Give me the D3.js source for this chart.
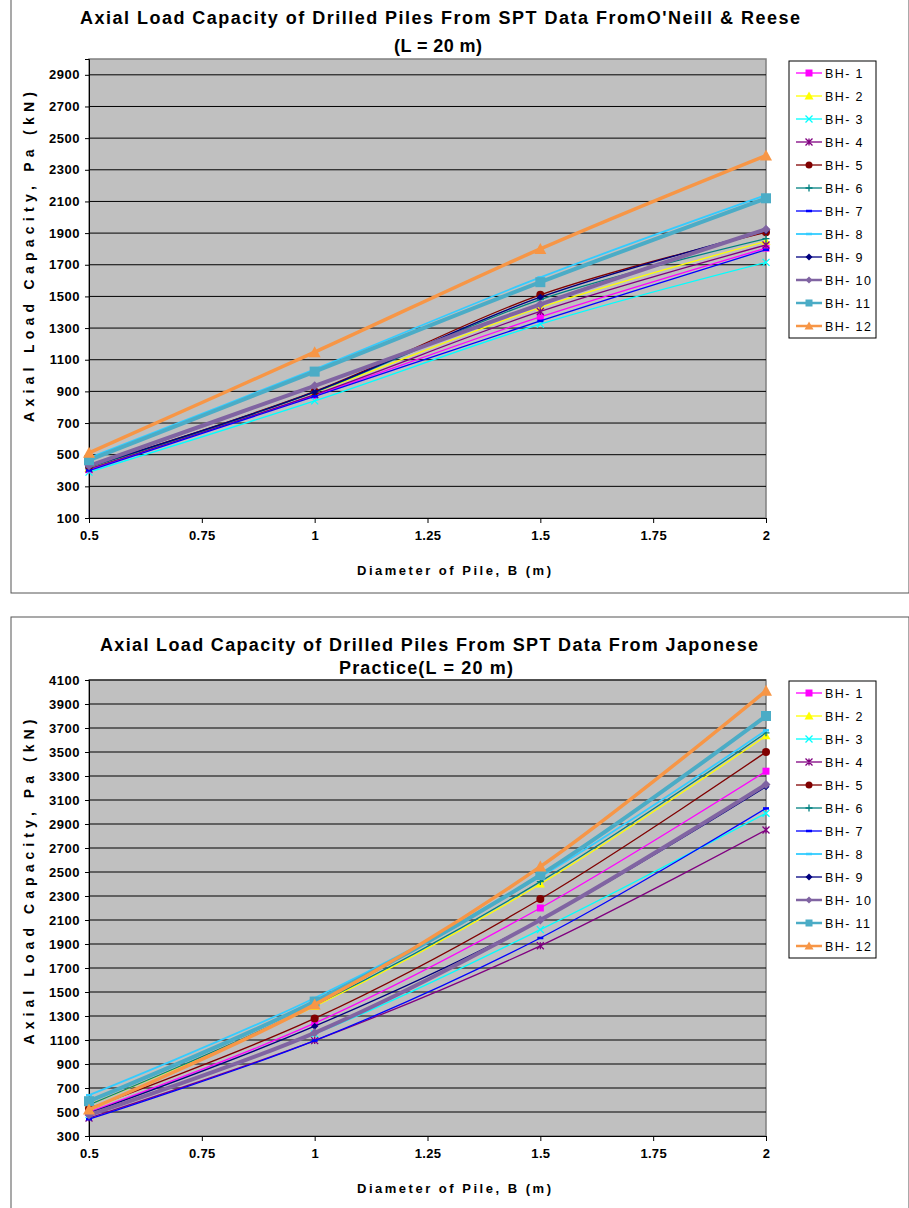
<!DOCTYPE html>
<html><head><meta charset="utf-8">
<script src="https://cdn.jsdelivr.net/npm/d3@7"></script>
<style>body{margin:0;background:#fff;} text{font-family:"Liberation Sans",Arial,sans-serif;}</style>
</head><body>
<svg id="c" width="909" height="1208"></svg>
<script>
const diameters = [0.5, 1, 1.5, 2];
const xTicks = [0.5, 0.75, 1, 1.25, 1.5, 1.75, 2];
const seriesNames = ["BH- 1","BH- 2","BH- 3","BH- 4","BH- 5","BH- 6","BH- 7","BH- 8","BH- 9","BH- 10","BH- 11","BH- 12"];
// O'Neill & Reese
const oneillValues = [
  [405, 875, 1370, 1805],
  [415, 893, 1430, 1848],
  [390, 840, 1325, 1715],
  [410, 880, 1405, 1825],
  [425, 900, 1510, 1905],
  [420, 895, 1480, 1865],
  [400, 868, 1345, 1795],
  [480, 1040, 1620, 2140],
  [425, 897, 1495, 1915],
  [430, 935, 1450, 1925],
  [465, 1025, 1590, 2120],
  [512, 1148, 1800, 2390]
];
const oneillTicks = [100,300,500,700,900,1100,1300,1500,1700,1900,2100,2300,2500,2700,2900];
// Japanese practice
const japanValues = [
  [500, 1240, 2200, 3340],
  [560, 1380, 2400, 3635],
  [480, 1150, 2020, 2990],
  [450, 1095, 1885, 2850],
  [530, 1280, 2275, 3500],
  [560, 1390, 2420, 3660],
  [440, 1095, 1950, 3030],
  [640, 1450, 2460, 3680],
  [490, 1215, 2100, 3210],
  [475, 1160, 2100, 3230],
  [590, 1420, 2475, 3800],
  [520, 1395, 2545, 4010]
];
const japanTicks = [300,500,700,900,1100,1300,1500,1700,1900,2100,2300,2500,2700,2900,3100,3300,3500,3700,3900,4100];

const styles = [
  {color:"#FF00FF", w:1.3, m:"square", ms:7},
  {color:"#FFFF00", w:1.3, m:"triangle", ms:7},
  {color:"#00FFFF", w:1.3, m:"x", ms:7},
  {color:"#800080", w:1.3, m:"star", ms:7},
  {color:"#800000", w:1.3, m:"circle", ms:8},
  {color:"#008080", w:1.3, m:"plus", ms:7},
  {color:"#0000FF", w:1.3, m:"dash", ms:6},
  {color:"#33CCFF", w:1.8, m:"dash", ms:6},
  {color:"#000080", w:1.3, m:"diamond", ms:7},
  {color:"#8064A2", w:4, m:"diamond", ms:9},
  {color:"#4BACC6", w:4, m:"square", ms:10},
  {color:"#F79646", w:3.5, m:"triangle", ms:10}
];

const svg = d3.select("#c");

function marker(g, type, x, y, s, color) {
  const h = s/2;
  if (type === "square") g.append("rect").attr("x", x-h).attr("y", y-h).attr("width", s).attr("height", s).attr("fill", color);
  else if (type === "circle") g.append("circle").attr("cx", x).attr("cy", y).attr("r", h).attr("fill", color);
  else if (type === "triangle") g.append("path").attr("d", `M${x},${y-h-1}L${x+h+1},${y+h}L${x-h-1},${y+h}Z`).attr("fill", color);
  else if (type === "diamond") g.append("path").attr("d", `M${x},${y-h}L${x+h},${y}L${x},${y+h}L${x-h},${y}Z`).attr("fill", color);
  else if (type === "x") g.append("path").attr("d", `M${x-h},${y-h}L${x+h},${y+h}M${x-h},${y+h}L${x+h},${y-h}`).attr("stroke", color).attr("stroke-width", 1.3);
  else if (type === "star") g.append("path").attr("d", `M${x-h},${y-h}L${x+h},${y+h}M${x-h},${y+h}L${x+h},${y-h}M${x},${y-h}L${x},${y+h}`).attr("stroke", color).attr("stroke-width", 1.3);
  else if (type === "plus") g.append("path").attr("d", `M${x-h},${y}L${x+h},${y}M${x},${y-h}L${x},${y+h}`).attr("stroke", color).attr("stroke-width", 1.3);
  else if (type === "dash") g.append("path").attr("d", `M${x-h},${y}L${x+h},${y}`).attr("stroke", color).attr("stroke-width", 2.5);
}

function chart(cfg) {
  const g = svg.append("g");
  g.append("rect").attr("x", cfg.frame[0]).attr("y", cfg.frame[1]).attr("width", cfg.frame[2]).attr("height", cfg.frame[3])
    .attr("fill", "#fff").attr("stroke", "#555").attr("stroke-width", 1);
  const x = d3.scaleLinear().domain([0.5, 2]).range([cfg.left, cfg.right]);
  const y = d3.scaleLinear().domain(cfg.yDomain).range([cfg.bottom, cfg.top]);
  g.append("rect").attr("x", cfg.left).attr("y", cfg.top).attr("width", cfg.right-cfg.left).attr("height", cfg.bottom-cfg.top)
    .attr("fill", "#C0C0C0").attr("stroke", "#808080").attr("stroke-width", 1.5);
  g.selectAll(null).data(cfg.yTicks.slice(1)).enter().append("line")
    .attr("x1", cfg.left).attr("x2", cfg.right).attr("y1", d=>y(d)).attr("y2", d=>y(d))
    .attr("stroke", "#000").attr("stroke-width", 1);
  const ya = g.append("g").attr("transform", `translate(${cfg.left},0)`)
    .call(d3.axisLeft(y).tickValues(cfg.yTicks).tickSize(4).tickPadding(5).tickFormat(d3.format("d")));
  ya.select(".domain").attr("stroke", "#000");
  ya.selectAll("text").attr("font-size", 13).attr("font-weight", "bold").attr("fill", "#000").attr("letter-spacing", 0.5);
  const xa = g.append("g").attr("transform", `translate(0,${cfg.bottom})`)
    .call(d3.axisBottom(x).tickValues(xTicks).tickSize(5).tickPadding(8).tickFormat(d => String(d)));
  xa.select(".domain").attr("stroke", "#000");
  xa.selectAll("text").attr("font-size", 13).attr("font-weight", "bold").attr("fill", "#000").attr("letter-spacing", 0.3);
  cfg.title.forEach((t, i) => {
    g.append("text").attr("x", cfg.titleX[i]).attr("y", cfg.titleY[i]).attr("text-anchor", "middle")
      .attr("font-size", 18).attr("font-weight", "bold")
      .attr("textLength", cfg.titleW[i]).attr("lengthAdjust", "spacing").text(t);
  });
  g.append("text").attr("x", 454).attr("y", cfg.bottom + 57).attr("text-anchor", "middle")
    .attr("font-size", 13).attr("font-weight", "bold")
    .attr("textLength", 194).attr("lengthAdjust", "spacing").text("Diameter of Pile, B (m)");
  g.append("text").attr("transform", `translate(34,${cfg.yTitleC}) rotate(-90)`).attr("text-anchor", "middle")
    .attr("font-size", 14).attr("font-weight", "bold")
    .attr("textLength", cfg.yTitleW).attr("lengthAdjust", "spacing").text("Axial Load Capacity, Pa (kN)");
  const line = d3.line().x(d=>x(d[0])).y(d=>y(d[1])).curve(d3.curveCatmullRom.alpha(0.5));
  d3.range(12).forEach(i => {
    const pts = diameters.map((dd, j) => [dd, cfg.values[i][j]]);
    g.append("path").attr("d", line(pts)).attr("fill", "none").attr("stroke", styles[i].color).attr("stroke-width", styles[i].w);
    pts.forEach(p => marker(g, styles[i].m, x(p[0]), y(p[1]), styles[i].ms, styles[i].color));
  });
  const lg = g.append("g");
  lg.append("rect").attr("x", 789).attr("y", cfg.legendY).attr("width", 87).attr("height", 277)
    .attr("fill", "#fff").attr("stroke", "#000").attr("stroke-width", 1);
  seriesNames.forEach((n, i) => {
    const yy = cfg.legendY + 12 + i*23;
    lg.append("line").attr("x1", 796).attr("x2", 822).attr("y1", yy).attr("y2", yy)
      .attr("stroke", styles[i].color).attr("stroke-width", Math.min(styles[i].w, 2.5));
    marker(lg, styles[i].m, 809, yy, Math.min(styles[i].ms, 7), styles[i].color);
    lg.append("text").attr("x", 825).attr("y", yy + 4.5).attr("font-size", 12.5).attr("letter-spacing", 1.4).text(n);
  });
}

chart({frame:[11,-2,898,595], left:89, right:766, top:59, bottom:518, yDomain:[100, 3000], yTicks:oneillTicks,
  values:oneillValues, title:["Axial Load Capacity of Drilled Piles From SPT Data FromO'Neill & Reese", "(L = 20 m)"],
  titleX:[440, 438], titleY:[24, 52], titleW:[720, 88], legendY:61, yTitleC:257, yTitleW:330});
chart({frame:[11,617,898,595], left:89, right:766, top:680, bottom:1136, yDomain:[300, 4100], yTicks:japanTicks,
  values:japanValues, title:["Axial Load Capacity of Drilled Piles From SPT Data From Japonese", "Practice(L = 20 m)"],
  titleX:[429, 426], titleY:[651, 674], titleW:[658, 174], legendY:681, yTitleC:882, yTitleW:325});
</script>
</body></html>
